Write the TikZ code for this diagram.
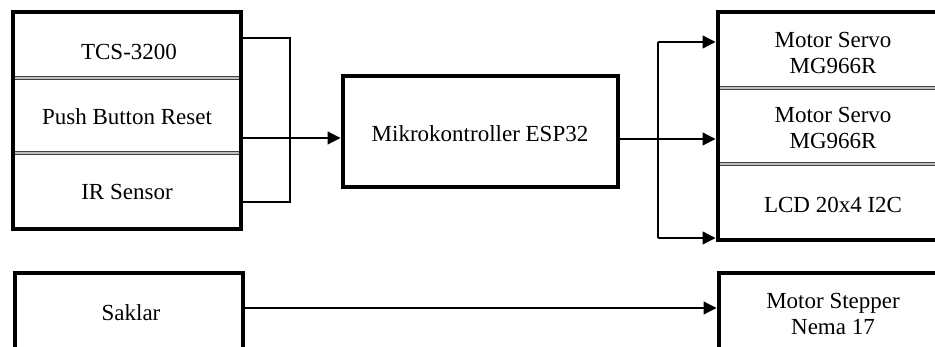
\documentclass[tikz,border=0pt]{standalone}
\usepackage{fontspec}
\setmainfont{Liberation Serif}
\usepackage{tikz}
\usetikzlibrary{arrows.meta}

\tikzset{
  blok/.style={draw,line width=4pt,inner sep=0pt},
  teks/.style={align=center,inner sep=0pt,font=\fontsize{23}{26.5}\selectfont},
  sekat/.style={draw=black!75,double=black!25,double distance=2pt,line width=0.8pt},
  garis/.style={line width=1.2pt},
  panah/.style={garis,-{Triangle[length=13pt,width=13pt]}}
}

\begin{document}
\begin{tikzpicture}[x=1pt,y=-1pt]
            \useasboundingbox (0,0) rectangle (935,347);
            % sekat antar bagian
            \draw[sekat] (15,78) -- (239,78);
            \draw[sekat] (15,153) -- (239,153);
            \draw[sekat] (719,88) -- (950,88);
            \draw[sekat] (719,164) -- (950,164);
            % kotak utama
            \node[blok,minimum width=228pt,minimum height=217pt] (input) at (127,121) {};
            \node[blok,minimum width=275pt,minimum height=111pt] (esp) at (480,132) {};
            \node[blok,minimum width=233pt,minimum height=228pt] (output) at (834,126.5) {};
            \node[blok,minimum width=228pt,minimum height=120pt] (saklarbox) at (129,333) {};
            \node[blok,minimum width=231pt,minimum height=120pt] (stepperbox) at (834,333) {};
            % teks
            \node[teks] (tcs) at (129,52) {TCS-3200};
            \node[teks] (pbr) at (127,117) {Push Button Reset};
            \node[teks] (ir) at (127,192) {IR Sensor};
            \node[teks] (mcu) at (480,134) {Mikrokontroller ESP32};
            \node[teks] (servoa) at (833,53) {Motor Servo\\MG966R};
            \node[teks] (servob) at (833,128) {Motor Servo\\MG966R};
            \node[teks] (lcd) at (833,205) {LCD 20x4 I2C};
            \node[teks] (saklar) at (131,313) {Saklar};
            \node[teks] (stepper) at (833,314) {Motor Stepper\\Nema 17};
            % jalur input
            \coordinate (ka) at (290,38);
            \coordinate (kb) at (290,202);
            \draw[garis] (input.east |- ka) -- (ka) -- (kb) -- (input.east |- kb);
            \draw[panah] (input.east |- 0,138) -- (esp.west |- 0,138);
            % jalur output
            \coordinate (oa) at (658,42);
            \coordinate (ob) at (658,238);
            \draw[garis] (oa) -- (ob);
            \draw[panah] (esp.east |- 0,139) -- (output.west |- 0,139);
            \draw[panah] (oa) -- (output.west |- oa);
            \draw[panah] (ob) -- (output.west |- ob);
            \draw[panah] (saklarbox.east |- 0,308) -- (stepperbox.west |- 0,308);
        \end{tikzpicture}
\end{document}
